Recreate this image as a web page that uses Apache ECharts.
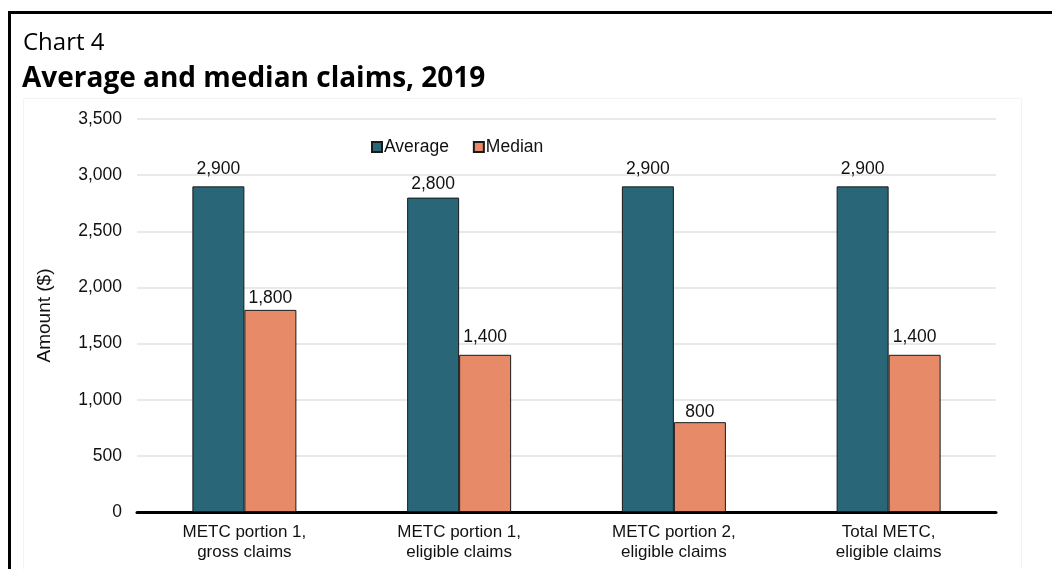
<!DOCTYPE html>
<html>
<head>
<meta charset="utf-8">
<script src="https://cdn.jsdelivr.net/npm/echarts@6/dist/echarts.min.js"></script>
<style>
  html, body { margin: 0; padding: 0; background: #ffffff; }
  #chart { width: 1052px; height: 569px; }
</style>
</head>
<body>
<div id="chart"></div>
<script>
// Claim categories (two-line axis labels)
const categories = [
  'METC portion 1,\ngross claims',
  'METC portion 1,\neligible claims',
  'METC portion 2,\neligible claims',
  'Total METC,\neligible claims'
];
// Average and median claim amounts, dollars
const averageValues = [2900, 2800, 2900, 2900];
const medianValues = [1800, 1400, 800, 1400];
const seriesNames = ['Average', 'Median'];

const labelFont = '"Liberation Sans", Arial, sans-serif';
const titleFont = '"Open Sans", "Noto Sans", sans-serif';

// Gap between each bar top and its value label
const averageLabelGaps = [8, 4, 8, 8];
const medianLabelGaps = [3, 8.5, 1, 8.5];

const chart = echarts.init(document.getElementById('chart'), null, { renderer: 'canvas' });

const barLabel = {
  show: true,
  position: 'top',
  color: '#111111',
  fontFamily: labelFont,
  fontSize: 17.5,
  formatter: p => p.value.toLocaleString('en-US')
};

const withLabelGaps = (values, gaps) =>
  values.map((v, i) => ({ value: v, label: { distance: gaps[i] } }));

chart.setOption({
  animation: false,
  backgroundColor: '#ffffff',
  graphic: [
    // Frame: top rule and left rule
    { type: 'rect', shape: { x: 8, y: 11, width: 1044, height: 3 }, style: { fill: '#000000' }, silent: true },
    { type: 'rect', shape: { x: 8, y: 11, width: 3, height: 558 }, style: { fill: '#000000' }, silent: true },
    // Faint chart-area outline
    { type: 'rect', shape: { x: 23.5, y: 98.5, width: 998, height: 480 }, style: { fill: 'none', stroke: '#f3f3f3', lineWidth: 1 }, silent: true },
    { type: 'text', left: 23, top: 31, style: { text: 'Chart 4', font: '24px ' + titleFont, fill: '#000000' } },
    { type: 'text', left: 22, top: 65, style: { text: 'Average and median claims, 2019', font: 'bold 28px ' + titleFont, fill: '#000000' } }
  ],
  legend: {
    data: seriesNames,
    left: 366,
    top: 133,
    itemWidth: 10,
    itemHeight: 10,
    itemGap: 24,
    icon: 'rect',
    textStyle: { fontFamily: labelFont, fontSize: 17.5, color: '#111111', padding: [0, 0, 0, -3] }
  },
  grid: { left: 137, right: 56, top: 119, bottom: 57, containLabel: false },
  xAxis: {
    type: 'category',
    data: categories,
    axisLine: { lineStyle: { color: '#000000', width: 3 } },
    axisTick: { show: false },
    axisLabel: { fontFamily: labelFont, fontSize: 17, color: '#111111', lineHeight: 20, margin: 10, interval: 0 }
  },
  yAxis: {
    type: 'value',
    min: 0,
    max: 3500,
    interval: 500,
    name: 'Amount ($)',
    nameLocation: 'middle',
    nameGap: 83,
    nameRotate: 90,
    nameTextStyle: { fontFamily: labelFont, fontSize: 19, color: '#111111' },
    axisLine: { show: false },
    axisTick: { show: false },
    axisLabel: { fontFamily: labelFont, fontSize: 17.5, color: '#111111', margin: 15, formatter: v => v.toLocaleString('en-US') },
    splitLine: { lineStyle: { color: '#e2e2e2', width: 1.5 } }
  },
  series: [
    {
      name: seriesNames[0],
      type: 'bar',
      data: withLabelGaps(averageValues, averageLabelGaps),
      barWidth: 52,
      barGap: '0%',
      itemStyle: { color: '#296677', borderColor: '#1a1a1a', borderWidth: 1 },
      label: barLabel
    },
    {
      name: seriesNames[1],
      type: 'bar',
      data: withLabelGaps(medianValues, medianLabelGaps),
      barWidth: 52,
      barGap: '0%',
      itemStyle: { color: '#E68A67', borderColor: '#1a1a1a', borderWidth: 1 },
      label: barLabel
    }
  ]
});
</script>
</body>
</html>
